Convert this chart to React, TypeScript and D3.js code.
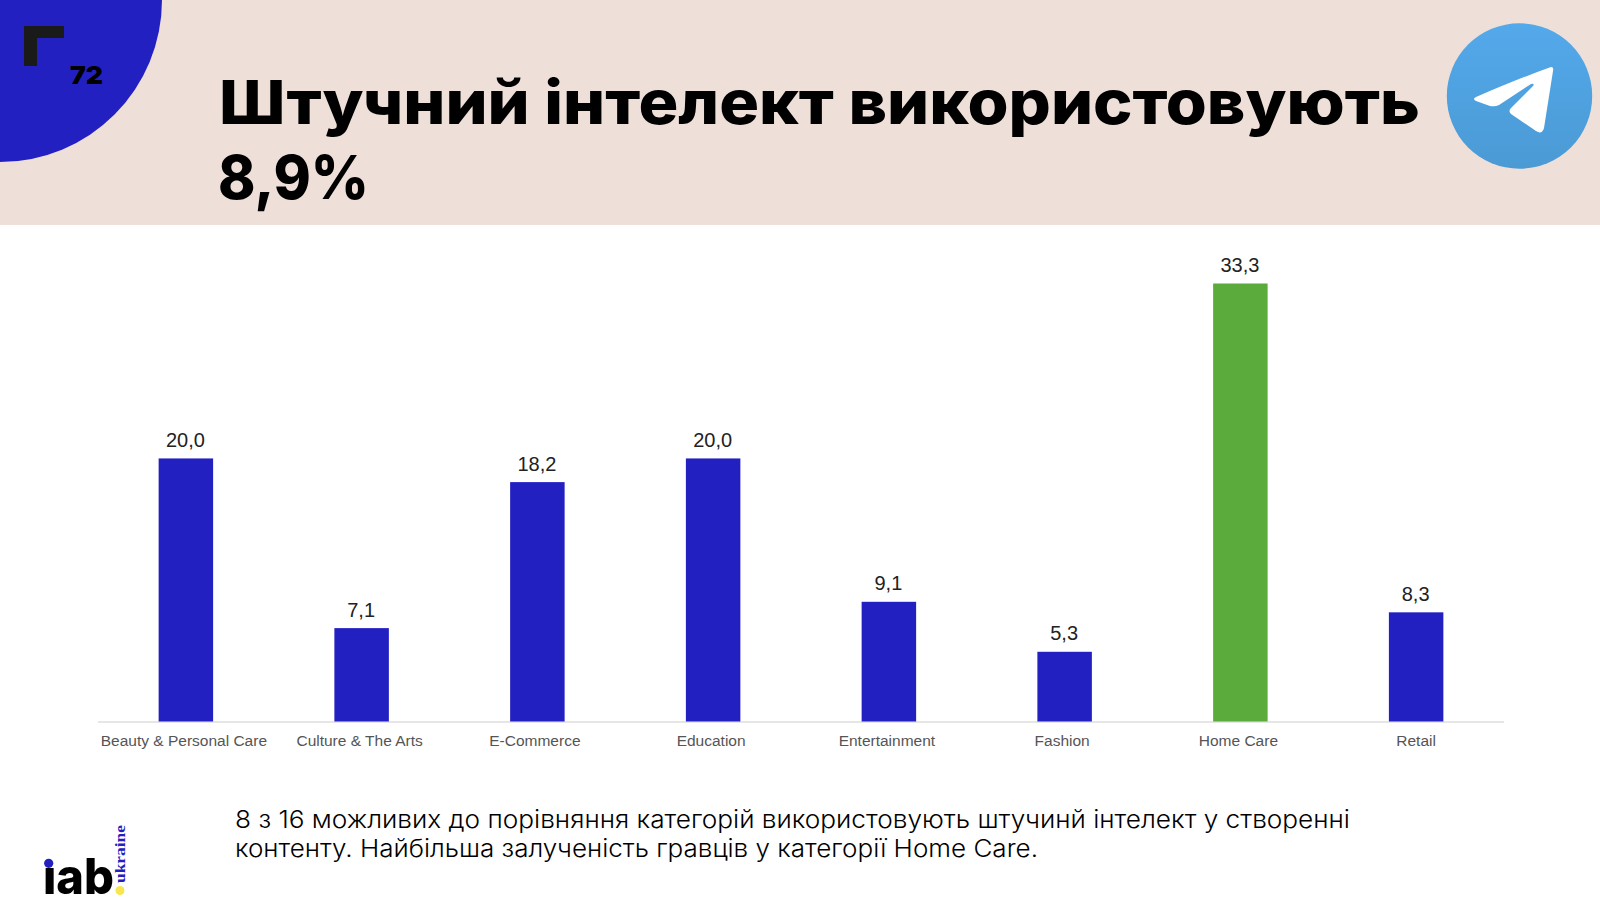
import React from "react";
import * as d3 from "d3";

const categories = ["Beauty & Personal Care","Culture & The Arts","E-Commerce","Education","Entertainment","Fashion","Home Care","Retail"];
const values = [20.0,7.1,18.2,20.0,9.1,5.3,33.3,8.3];
const labelOffsets = [-2,-2,-2.5,-2,-2,-2.5,-2,0];
const BLUE = "#2320c2";
const GREEN = "#5bab3c";

export default function App() {
  const x = d3.scaleBand<string>().domain(categories).range([98, 1504]).paddingInner(0.69).paddingOuter(0.345);
  const y = d3.scaleLinear().domain([0, 33.3]).range([721.5, 283.5]);
  const fmt = (v: number) => v.toFixed(1).replace(".", ",");
  return (
    <svg width={1600} height={907} viewBox="0 0 1600 907" style={{position:"fixed",left:0,top:0,display:"block"}}>
      <defs>
        <linearGradient id="tg" x1="0" y1="0" x2="0" y2="1">
          <stop offset="0" stopColor="#54a9eb"/>
          <stop offset="1" stopColor="#4a9ad4"/>
        </linearGradient>
      </defs>
      <rect width={1600} height={907} fill="#fff"/>
      <rect width={1600} height={225} fill="#eee0d9"/>
      <circle cx={0} cy={0} r={162} fill={BLUE}/>
      <path d="M24 26H64V38H37V66H24Z" fill="#1a1a1a"/>
      <text x={70} y={84} fontFamily="Inter" fontWeight={900} fontSize={25} fill="#000" textLength={33} lengthAdjust="spacingAndGlyphs">72</text>
      <g fontFamily="Inter" fontWeight={800} fontSize={61} fill="#000">
        <text x={219} y={124} textLength={1201} lengthAdjust="spacingAndGlyphs">Штучний інтелект використовують</text>
        <text x={218} y={199} textLength={151} lengthAdjust="spacingAndGlyphs">8,9%</text>
      </g>
      <circle cx={1519.5} cy={96} r={72.7} fill="url(#tg)"/>
      <path d="M1476 97Q1520 78 1551 67Q1554 67 1553 71L1544 128Q1542 135 1536 131L1511 114Q1508 111 1511 108L1533 86Q1535 83 1531 84L1499 105Q1495 107 1490 106L1476 101Q1472 99 1476 97Z" fill="#fff"/>
      <line x1={98} x2={1504} y1={722} y2={722} stroke="#e6e6e6" strokeWidth={2}/>
      {categories.map((c, i) => (
        <g key={c}>
          <rect x={x(c)} y={y(values[i])} width={x.bandwidth()} height={y(0) - y(values[i])} fill={c === "Home Care" ? GREEN : BLUE}/>
          <text x={x(c)! + x.bandwidth() / 2 - 0.5} y={y(values[i]) - 11.5} textAnchor="middle" fontFamily="Liberation Sans" fontSize={20} fill="#222">{fmt(values[i])}</text>
          <text x={x(c)! + x.bandwidth() / 2 + labelOffsets[i]} y={745.5} textAnchor="middle" fontFamily="Liberation Sans" fontSize={15.5} fill="#555">{c}</text>
        </g>
      ))}
      <g fontFamily="Inter" fontSize={24} fontWeight={300} fill="#000">
        <text x={235} y={828} textLength={1115} lengthAdjust="spacingAndGlyphs">8 з 16 можливих до порівняння категорій використовують штучинй інтелект у створенні</text>
        <text x={235} y={857} textLength={803} lengthAdjust="spacingAndGlyphs">контенту. Найбільша залученість гравців у категорії Home Care.</text>
      </g>
      <text x={43} y={894} fontFamily="Inter" fontWeight={800} fontSize={50} fill="#000" textLength={71} lengthAdjust="spacingAndGlyphs">iab</text>
      <rect x={42} y={853} width={13} height={15} fill="#fff"/>
      <circle cx={48.7} cy={863.3} r={4.6} fill={BLUE}/>
      <circle cx={120} cy={890.5} r={4.5} fill="#f7e64f"/>
      <text transform="translate(124.5,883) rotate(-90)" fontFamily="Liberation Serif" fontWeight={700} fontSize={14} fill={BLUE} textLength={58} lengthAdjust="spacingAndGlyphs">ukraine</text>
    </svg>
  );
}
